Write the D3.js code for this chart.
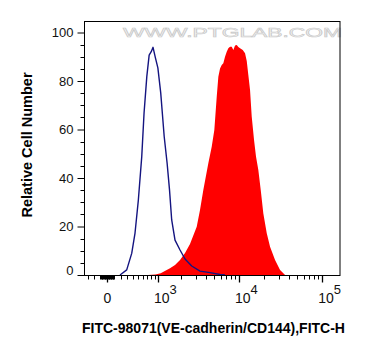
<!DOCTYPE html>
<html>
<head>
<meta charset="utf-8">
<script src="https://cdn.jsdelivr.net/npm/d3@7"></script>
<style>
  html, body { margin: 0; padding: 0; background: #fff; }
  svg { display: block; }
  text { font-family: Arial, "Liberation Sans", sans-serif; }
</style>
</head>
<body>
<svg id="chart" width="367" height="356"></svg>
<script>
// ---------------- data (fluorescence intensity, relative cell number) ----------------
const controlIntensity = [188, 295, 381, 442, 507, 578, 629, 693, 751, 805, 854, 922, 996, 1088, 1210, 1319, 1417, 1511, 1664, 1923, 2218, 2681, 3384, 4477, 5916, 6794];
const controlCount     = [0, 2.1, 8.9, 17.3, 30.9, 48.8, 66.8, 81.8, 90.7, 92.1, 93.9, 89.5, 85.4, 75.1, 57.0, 46.2, 35.1, 22.7, 14.4, 10.3, 6.6, 3.7, 1.6, 1.0, 0.2, 0];

const stainedIntensity = [722, 922, 1088, 1304, 1438, 1664, 1923, 2218, 2555, 3086, 3384, 3713, 4270, 4692, 5047, 5395, 5643, 5915, 6198, 6480, 6794, 7123, 7448, 7803, 8185, 8556, 8969, 9404, 9827, 10303, 11103, 11835, 12406, 12965, 13593, 14247, 15183, 16046, 17102, 18279, 19644, 21590, 23655, 27170, 31197, 35841];
const stainedCount     = [0, 0.2, 0.7, 2.1, 2.8, 4.1, 6.2, 9.1, 12.8, 19.9, 26.8, 35.1, 46.1, 52.9, 59.8, 73.5, 81.8, 85.2, 86.6, 87.3, 90.0, 92.1, 93.5, 94.1, 94.1, 92.8, 94.6, 94.8, 94.0, 93.5, 92.8, 91.4, 88.2, 82.5, 76.3, 65.3, 55.7, 48.8, 43.3, 35.1, 25.4, 17.2, 11.7, 6.2, 2.1, 0];

const yTickValues = [0, 20, 40, 60, 80, 100];
const xMajorTicks = [0, 1e3, 1e4, 1e5];
const xMajorLabels = [["0", ""], ["10", "3"], ["10", "4"], ["10", "5"]];
const xDomain = [-361, 164000];
const yDomain = [0, 100];

const xTitle = "FITC-98071(VE-cadherin/CD144),FITC-H";
const yTitle = "Relative Cell Number";
const watermark = "WWW.PTGLAB.COM";

// ---------------- scales ----------------
const W = 523; // logicle-like linear width
const tr = v => Math.asinh(v / W) / Math.LN10;
const L = 84, R = 340, T = 21, B = 275;
const xT = d3.scaleLinear().domain(xDomain.map(tr)).range([L, R]);
const x = v => xT(tr(v));
const y = d3.scaleLinear().domain(yDomain).range([B, 32.5]);

const svg = d3.select("#chart");

// watermark
svg.append("text")
  .attr("x", 123).attr("y", 37)
  .attr("textLength", 219).attr("lengthAdjust", "spacingAndGlyphs")
  .style("font-size", "13px")
  .attr("fill", "#f6f6f6").attr("stroke", "#c9c9c9").attr("stroke-width", 0.6)
  .text(watermark);

// stained histogram (filled)
const stained = stainedIntensity.map((v, i) => [v, stainedCount[i]]);
svg.append("path")
  .datum(stained)
  .attr("fill", "#ff0000")
  .attr("d", d3.area().x(d => x(d[0])).y0(y(0)).y1(d => y(d[1])));

// control histogram (line)
const control = controlIntensity.map((v, i) => [v, controlCount[i]]);
svg.append("path")
  .datum(control)
  .attr("fill", "none")
  .attr("stroke", "#141480")
  .attr("stroke-width", 1.4)
  .attr("stroke-linejoin", "round")
  .attr("d", d3.line().x(d => x(d[0])).y(d => y(d[1])));

// frame
svg.append("rect")
  .attr("x", L + 0.5).attr("y", T + 0.5)
  .attr("width", R - L - 0.5).attr("height", B - T)
  .attr("fill", "none").attr("stroke", "#000").attr("stroke-width", 1);

// y axis
const yMinor = d3.range(0, 101, 5).filter(v => v % 20 !== 0);
const yAxisG = svg.append("g").attr("transform", `translate(${L + 0.5},0)`);
yAxisG.call(d3.axisLeft(y).tickValues(yTickValues).tickSize(7).tickPadding(4).tickFormat(d3.format("d")));
yAxisG.select(".domain").remove();
yAxisG.selectAll("text").style("font-size", "13px").attr("fill", "#111").style("font-family", "Arial, 'Liberation Sans', sans-serif");
yAxisG.selectAll(".tick").filter(d => d === 0).select("text").attr("dy", "-0.05em");
yAxisG.selectAll(".minor").data(yMinor).enter().append("line")
  .attr("x1", -4).attr("x2", 0)
  .attr("y1", d => Math.round(y(d)) + 0.5).attr("y2", d => Math.round(y(d)) + 0.5)
  .attr("stroke", "#000");

// x axis ticks
const xMinor = [];
[-300, -200, -100].forEach(v => xMinor.push(v));
for (let k = 1; k <= 9; k++) { xMinor.push(-k * 10); xMinor.push(k * 10); }
for (let k = 1; k <= 9; k++) xMinor.push(k * 100);
for (let k = 2; k <= 9; k++) { xMinor.push(k * 1e3); xMinor.push(k * 1e4); }
const xAxisG = svg.append("g").attr("transform", `translate(0,${B + 0.5})`);
xAxisG.selectAll(".minor").data(xMinor.filter(v => x(v) >= L && x(v) <= R)).enter().append("line")
  .attr("x1", d => Math.round(x(d)) + 0.5).attr("x2", d => Math.round(x(d)) + 0.5)
  .attr("y1", 0).attr("y2", 4).attr("stroke", "#000");
xAxisG.selectAll(".major").data(xMajorTicks).enter().append("line")
  .attr("x1", d => Math.round(x(d)) + 0.5).attr("x2", d => Math.round(x(d)) + 0.5)
  .attr("y1", 0).attr("y2", 7).attr("stroke", "#000").attr("stroke-width", 1.3);

// x tick labels
xMajorTicks.forEach((v, i) => {
  const [base, sup] = xMajorLabels[i];
  const t = svg.append("text").attr("y", 303).style("font-size", "14px").attr("fill", "#111");
  if (!sup) {
    t.attr("x", x(v)).attr("text-anchor", "middle").text(base);
  } else {
    t.attr("x", x(v) - 4).attr("text-anchor", "start");
    t.append("tspan").text(base);
    t.append("tspan").attr("dy", -9).style("font-size", "13px").text(sup);
  }
});

// titles
svg.append("text")
  .attr("x", 213.5).attr("y", 333)
  .attr("text-anchor", "middle")
  .style("font-size", "14px").style("font-weight", "bold")
  .text(xTitle);

svg.append("text")
  .attr("transform", "translate(32.3,145) rotate(-90)")
  .attr("text-anchor", "middle")
  .style("font-size", "14.5px").style("font-weight", "bold")
  .text(yTitle);
</script>
</body>
</html>
